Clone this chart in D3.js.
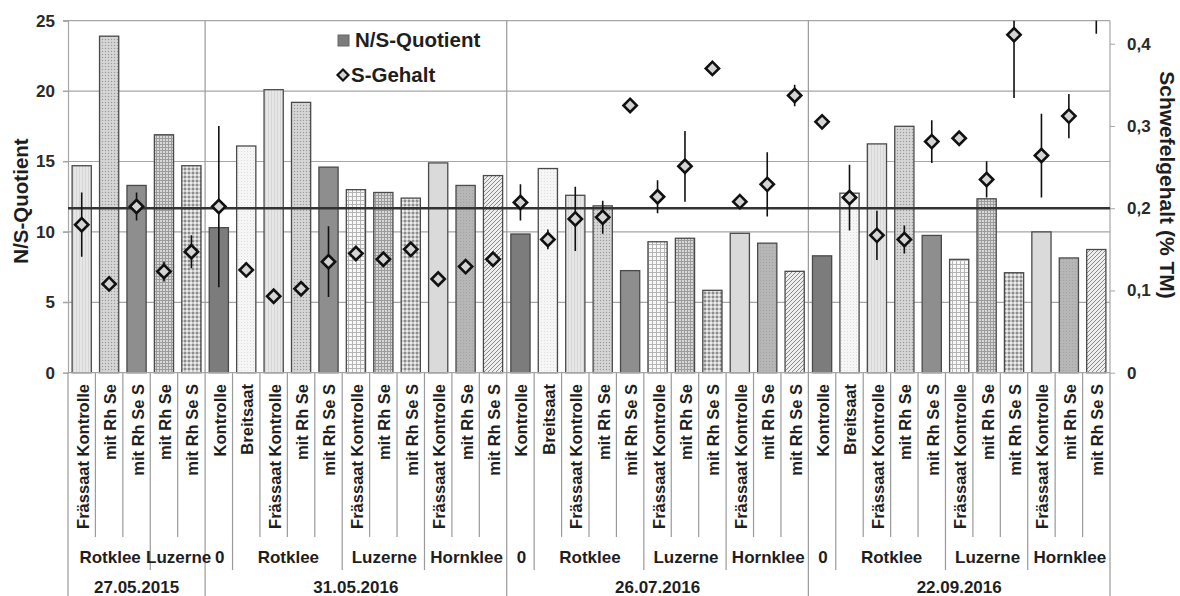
<!DOCTYPE html>
<html>
<head>
<meta charset="utf-8">
<script src="https://cdn.jsdelivr.net/npm/d3@7"></script>
<style>
  html, body { margin: 0; padding: 0; background: #fff; }
  svg { display: block; font-family: "Liberation Sans", Arial, sans-serif; }
</style>
</head>
<body>
<svg id="chart" width="1180" height="596"></svg>
<script>
// ---------------- DATA ----------------
const dates = ["27.05.2015", "31.05.2016", "26.07.2016", "22.09.2016"];

const catLabels = [
  "Frässaat Kontrolle", "mit Rh Se", "mit Rh Se S", "mit Rh Se", "mit Rh Se S",
  "Kontrolle", "Breitsaat", "Frässaat Kontrolle", "mit Rh Se", "mit Rh Se S",
  "Frässaat Kontrolle", "mit Rh Se", "mit Rh Se S", "Frässaat Kontrolle", "mit Rh Se", "mit Rh Se S",
  "Kontrolle", "Breitsaat", "Frässaat Kontrolle", "mit Rh Se", "mit Rh Se S",
  "Frässaat Kontrolle", "mit Rh Se", "mit Rh Se S", "Frässaat Kontrolle", "mit Rh Se", "mit Rh Se S",
  "Kontrolle", "Breitsaat", "Frässaat Kontrolle", "mit Rh Se", "mit Rh Se S",
  "Frässaat Kontrolle", "mit Rh Se", "mit Rh Se S", "Frässaat Kontrolle", "mit Rh Se", "mit Rh Se S"
];

const catGroups = [
  "Rotklee", "Rotklee", "Rotklee", "Luzerne", "Luzerne",
  "0", "Rotklee", "Rotklee", "Rotklee", "Rotklee",
  "Luzerne", "Luzerne", "Luzerne", "Hornklee", "Hornklee", "Hornklee",
  "0", "Rotklee", "Rotklee", "Rotklee", "Rotklee",
  "Luzerne", "Luzerne", "Luzerne", "Hornklee", "Hornklee", "Hornklee",
  "0", "Rotklee", "Rotklee", "Rotklee", "Rotklee",
  "Luzerne", "Luzerne", "Luzerne", "Hornklee", "Hornklee", "Hornklee"
];

const catDates = [
  "27.05.2015", "27.05.2015", "27.05.2015", "27.05.2015", "27.05.2015",
  "31.05.2016", "31.05.2016", "31.05.2016", "31.05.2016", "31.05.2016", "31.05.2016",
  "31.05.2016", "31.05.2016", "31.05.2016", "31.05.2016", "31.05.2016",
  "26.07.2016", "26.07.2016", "26.07.2016", "26.07.2016", "26.07.2016", "26.07.2016",
  "26.07.2016", "26.07.2016", "26.07.2016", "26.07.2016", "26.07.2016",
  "22.09.2016", "22.09.2016", "22.09.2016", "22.09.2016", "22.09.2016", "22.09.2016",
  "22.09.2016", "22.09.2016", "22.09.2016", "22.09.2016", "22.09.2016"
];

// N/S-Quotient (bars, left axis)
const nsQuotient = [
  14.7, 23.9, 13.3, 16.9, 14.7,
  10.3, 16.1, 20.1, 19.2, 14.6, 13.0, 12.8, 12.4, 14.9, 13.3, 14.0,
  9.85, 14.5, 12.6, 11.85, 7.25, 9.3, 9.55, 5.85, 9.9, 9.2, 7.2,
  8.3, 12.75, 16.25, 17.5, 9.75, 8.05, 12.35, 7.1, 10.0, 8.15, 8.75
];

// S-Gehalt (% TM) (diamonds, right axis) and error
const sGehalt = [
  0.180, 0.108, 0.202, 0.123, 0.147,
  0.202, 0.125, 0.093, 0.102, 0.135, 0.145, 0.138, 0.150, 0.114, 0.129, 0.138,
  0.207, 0.162, 0.187, 0.189, 0.325, 0.214, 0.251, 0.370, 0.208, 0.229, 0.337,
  0.305, 0.213, 0.167, 0.162, 0.281, 0.285, 0.235, 0.411, 0.264, 0.312, 0.470
];
const sError = [
  0.039, 0.004, 0.017, 0.012, 0.020,
  0.098, 0.004, 0.004, 0.008, 0.043, 0.004, 0.004, 0.006, 0.004, 0.004, 0.004,
  0.022, 0.012, 0.039, 0.020, 0.004, 0.020, 0.043, 0.004, 0.004, 0.039, 0.013,
  0.004, 0.040, 0.030, 0.017, 0.026, 0.004, 0.022, 0.077, 0.051, 0.027, 0.058
];

const leftTicks = [0, 5, 10, 15, 20, 25];
const rightTicks = [0, 0.1, 0.2, 0.3, 0.4];
const sReference = 0.2;

// ---------------- LAYOUT ----------------
const svg = d3.select("#chart");
const L = 68, R = 1110, T = 20.7, B = 372.7;
const FONT = "bold";

const x = d3.scaleBand().domain(d3.range(catLabels.length)).range([L, R])
  .paddingInner(0.3).paddingOuter(0.15);
const step = x.step();
const boundary = k => L + k * step;
const cx = i => x(i) + x.bandwidth() / 2;

const yL = d3.scaleLinear().domain([0, 25]).range([B, T]);
const yR = d3.scaleLinear().domain([0, 0.428]).range([B, T]);

// ---------------- PATTERNS ----------------
const defs = svg.append("defs");
function pat(id, size, bg, draw) {
  const p = defs.append("pattern").attr("id", id).attr("patternUnits", "userSpaceOnUse")
    .attr("width", size).attr("height", size);
  p.append("rect").attr("width", size).attr("height", size).attr("fill", bg);
  draw(p);
}
pat("p-kontrolle", 4, "#7c7c7c", p => {});
pat("p-breit", 3, "#f6f6f6", p => p.append("rect").attr("x", 1).attr("y", 1).attr("width", 1).attr("height", 1).attr("fill", "#dedede"));
pat("p-rk-fk", 3, "#e6e6e6", p => p.append("rect").attr("x", 1).attr("y", 0).attr("width", 1).attr("height", 3).attr("fill", "#d6d6d6"));
pat("p-rk-se", 3, "#cfcfcf", p => { p.append("rect").attr("x", 0).attr("y", 0).attr("width", 1).attr("height", 1).attr("fill", "#9a9a9a"); p.append("rect").attr("x", 1.5).attr("y", 1.5).attr("width", 1).attr("height", 1).attr("fill", "#ececec"); });
pat("p-rk-ses", 4, "#8e8e8e", p => {});
pat("p-lz-fk", 4, "#f8f8f8", p => { p.append("rect").attr("width", 4).attr("height", 1).attr("fill", "#b4b4b4"); p.append("rect").attr("width", 1).attr("height", 4).attr("fill", "#b4b4b4"); });
pat("p-lz-se", 3, "#d8d8d8", p => { p.append("rect").attr("width", 3).attr("height", 1).attr("fill", "#9c9c9c"); p.append("rect").attr("width", 1).attr("height", 3).attr("fill", "#9c9c9c"); });
pat("p-lz-ses", 4, "#c8c8c8", p => { p.append("rect").attr("x", 0).attr("y", 0).attr("width", 2).attr("height", 2).attr("fill", "#8c8c8c"); p.append("rect").attr("x", 2).attr("y", 2).attr("width", 2).attr("height", 2).attr("fill", "#ececec"); });
pat("p-hk-fk", 4, "#dadada", p => {});
pat("p-hk-se", 3, "#b6b6b6", p => p.append("rect").attr("x", 1).attr("y", 1).attr("width", 1).attr("height", 1).attr("fill", "#a4a4a4"));
pat("p-hk-ses", 4, "#efefef", p => p.append("path").attr("d", "M-1,1 l2,-2 M0,4 l4,-4 M3,5 l2,-2").attr("stroke", "#8a8a8a").attr("stroke-width", 1));

function fillFor(i) {
  const g = catGroups[i], l = catLabels[i];
  if (g === "0") return "url(#p-kontrolle)";
  if (l === "Breitsaat") return "url(#p-breit)";
  const key = { "Rotklee": "rk", "Luzerne": "lz", "Hornklee": "hk" }[g];
  const t = l === "Frässaat Kontrolle" ? "fk" : (l === "mit Rh Se" ? "se" : "ses");
  return `url(#p-${key}-${t})`;
}

// ---------------- GRID & AXES ----------------
const grid = svg.append("g");
grid.selectAll("line.h").data(leftTicks.filter(d => d > 0)).join("line")
  .attr("x1", L - 5).attr("x2", R).attr("y1", d => yL(d)).attr("y2", d => yL(d))
  .attr("stroke", "#a6a6a6").attr("stroke-width", 1.2);

// Left axis
const gL = svg.append("g").attr("transform", `translate(${L},0)`)
  .call(d3.axisLeft(yL).tickValues(leftTicks).tickSize(5).tickPadding(8).tickFormat(d3.format("d")));
gL.select(".domain").attr("stroke", "#a6a6a6").attr("stroke-width", 1.2);
gL.selectAll(".tick line").attr("stroke", "#a6a6a6");
gL.selectAll(".tick text").attr("font-size", 17).attr("font-weight", FONT).attr("fill", "#2a2a2a")
  .attr("font-family", "Liberation Sans, Arial, sans-serif");

// Right axis
const gR = svg.append("g").attr("transform", `translate(${R},0)`)
  .call(d3.axisRight(yR).tickValues(rightTicks).tickSize(5).tickPadding(12)
    .tickFormat(d => d === 0 ? "0" : d3.format(".1f")(d).replace(".", ",")));
gR.select(".domain").attr("stroke", "#a6a6a6").attr("stroke-width", 1.2).attr("d", `M0,${B}V${T}`);
gR.selectAll(".tick line").attr("stroke", "#a6a6a6");
gR.selectAll(".tick text").attr("font-size", 17).attr("font-weight", FONT).attr("fill", "#2a2a2a")
  .attr("font-family", "Liberation Sans, Arial, sans-serif");

// ---------------- BARS ----------------
svg.append("g").selectAll("rect").data(nsQuotient).join("rect")
  .attr("x", (d, i) => x(i)).attr("width", x.bandwidth())
  .attr("y", d => yL(d)).attr("height", d => yL(0) - yL(d))
  .attr("fill", (d, i) => fillFor(i))
  .attr("stroke", "#4a4a4a").attr("stroke-width", 1.3);

// bottom axis line
svg.append("line").attr("x1", L).attr("x2", R).attr("y1", B).attr("y2", B)
  .attr("stroke", "#a6a6a6").attr("stroke-width", 1.2);

// ---------------- CATEGORY SEPARATORS ----------------
const dateBounds = [0];
const groupBounds = [];
for (let i = 1; i < catLabels.length; i++) {
  if (catDates[i] !== catDates[i - 1]) dateBounds.push(i);
  else if (catGroups[i] !== catGroups[i - 1]) groupBounds.push(i);
}
dateBounds.push(catLabels.length);
const catBounds = d3.range(1, catLabels.length).filter(k => !dateBounds.includes(k) && !groupBounds.includes(k));

const sep = svg.append("g").attr("stroke", "#9a9a9a").attr("stroke-width", 1.2);
sep.selectAll("line.c").data(catBounds).join("line")
  .attr("x1", boundary).attr("x2", boundary).attr("y1", B).attr("y2", 537);
sep.selectAll("line.g").data(groupBounds).join("line")
  .attr("x1", boundary).attr("x2", boundary).attr("y1", B).attr("y2", 570);
sep.selectAll("line.d").data(dateBounds).join("line")
  .attr("x1", boundary).attr("x2", boundary).attr("y1", (d) => (d === 0 || d === catLabels.length) ? B : T).attr("y2", 596);

// ---------------- REFERENCE LINE ----------------
svg.append("line").attr("x1", L).attr("x2", R).attr("y1", yR(sReference)).attr("y2", yR(sReference))
  .attr("stroke", "#333").attr("stroke-width", 2.6);

// ---------------- S-GEHALT POINTS ----------------
svg.append("clipPath").attr("id", "plotclip").append("rect")
  .attr("x", L).attr("y", T).attr("width", R - L).attr("height", B - T);
const pts = svg.append("g").attr("clip-path", "url(#plotclip)");
pts.selectAll("line.err").data(sGehalt).join("line")
  .attr("x1", (d, i) => cx(i)).attr("x2", (d, i) => cx(i))
  .attr("y1", (d, i) => yR(d - sError[i])).attr("y2", (d, i) => yR(d + sError[i]))
  .attr("stroke", "#111").attr("stroke-width", 1.6);
const diamond = d3.symbol(d3.symbolSquare, 88);
pts.selectAll("path.pt").data(sGehalt).join("path")
  .attr("d", diamond)
  .attr("transform", (d, i) => `translate(${cx(i)},${yR(d)}) rotate(45)`)
  .attr("fill", "#d4d4d4").attr("stroke", "#111").attr("stroke-width", 2.6);

// ---------------- X LABELS ----------------
const txt = "#1e1e1e";
svg.append("g").selectAll("text").data(catLabels).join("text")
  .attr("transform", (d, i) => `translate(${cx(i) + 1},384) rotate(-90)`)
  .attr("dy", "0.36em").attr("text-anchor", "end")
  .attr("font-size", 16.5).attr("font-weight", FONT).attr("fill", txt).text(d => d);

// group labels
const groupSpans = [];
let start = 0;
for (let i = 1; i <= catLabels.length; i++) {
  if (i === catLabels.length || catGroups[i] !== catGroups[i - 1] || catDates[i] !== catDates[i - 1]) {
    groupSpans.push({ name: catGroups[start], a: start, b: i });
    start = i;
  }
}
svg.append("g").selectAll("text").data(groupSpans).join("text")
  .attr("x", d => (boundary(d.a) + boundary(d.b)) / 2 + 1).attr("y", 563)
  .attr("text-anchor", "middle").attr("font-size", 17).attr("font-weight", FONT).attr("fill", txt)
  .text(d => d.name);

// date labels
svg.append("g").selectAll("text").data(dates).join("text")
  .attr("x", (d, k) => (boundary(dateBounds[k]) + boundary(dateBounds[k + 1])) / 2)
  .attr("y", 593).attr("text-anchor", "middle").attr("font-size", 17).attr("font-weight", FONT)
  .attr("fill", txt).text(d => d);

// ---------------- AXIS TITLES ----------------
svg.append("text").attr("transform", "translate(28,201) rotate(-90)")
  .attr("text-anchor", "middle").attr("font-size", 20.5).attr("font-weight", FONT).attr("fill", txt)
  .text("N/S-Quotient");
svg.append("text").attr("transform", "translate(1160,185) rotate(90)")
  .attr("text-anchor", "middle").attr("font-size", 21).attr("font-weight", FONT).attr("fill", txt)
  .text("Schwefelgehalt (% TM)");

// ---------------- LEGEND ----------------
const lg = svg.append("g");
lg.append("rect").attr("x", 338).attr("y", 35).attr("width", 11).attr("height", 11)
  .attr("fill", "#7c7c7c").attr("stroke", "#666").attr("stroke-width", 1);
lg.append("text").attr("x", 355).attr("y", 46.5).attr("font-size", 20.5).attr("font-weight", FONT)
  .attr("fill", txt).text("N/S-Quotient");
lg.append("path").attr("d", d3.symbol(d3.symbolSquare, 60))
  .attr("transform", "translate(343,75) rotate(45)")
  .attr("fill", "#d4d4d4").attr("stroke", "#111").attr("stroke-width", 2.2);
lg.append("text").attr("x", 351).attr("y", 81.5).attr("font-size", 20.5).attr("font-weight", FONT)
  .attr("fill", txt).text("S-Gehalt");
</script>
</body>
</html>
